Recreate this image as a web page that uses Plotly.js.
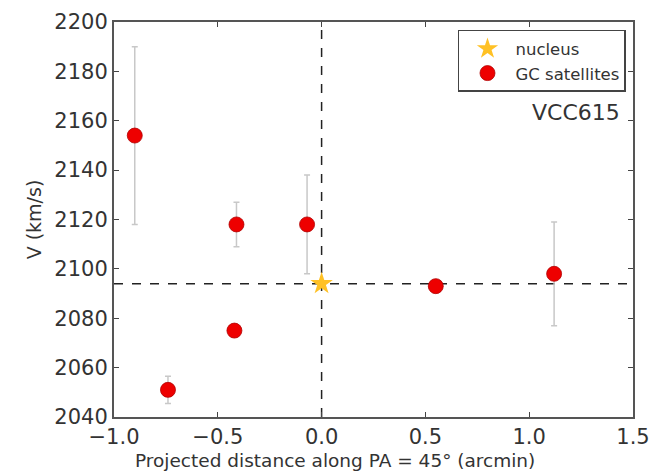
<!DOCTYPE html>
<html>
<head>
<meta charset="utf-8">
<script src="https://cdn.plot.ly/plotly-3.0.1.min.js"></script>
<style>html,body{margin:0;padding:0;background:#fff;}#chart{width:651px;height:474px;}</style>
</head>
<body>
<div id="chart"></div>
<script>
var gcX = [-0.90, -0.74, -0.42, -0.41, -0.07, 0.55, 1.12];
var gcV = [2154, 2051, 2075, 2118, 2118, 2093, 2098];
var gcErr = [36, 5.5, 0, 9, 20, 0, 21];
var nucX = [0.0];
var nucV = [2094];
var xTicks = [-1.0, -0.5, 0.0, 0.5, 1.0, 1.5];
var xTickText = ['\u22121.0', '\u22120.5', '0.0', '0.5', '1.0', '1.5'];
var yTicks = [2040, 2060, 2080, 2100, 2120, 2140, 2160, 2180, 2200];
var galaxyName = 'VCC615';
var xTitle = 'Projected distance along PA = 45\u00b0 (arcmin)';
var yTitle = 'V (km/s)';

var font = 'DejaVu Sans, sans-serif';
var traces = [
  {
    x: nucX, y: nucV, type: 'scatter', mode: 'markers', name: 'nucleus',
    marker: {symbol: 'star', size: 17, color: '#ffc125', line: {width: 0}}
  },
  {
    x: gcX, y: gcV, type: 'scatter', mode: 'markers', name: 'GC satellites',
    marker: {symbol: 'circle', size: 15, color: '#ee0000', line: {width: 0.8, color: '#b00000'}},
    error_y: {type: 'data', array: gcErr, visible: true, color: '#c8c8c8', thickness: 1.5, width: 3}
  }
];

var layout = {
  width: 651, height: 474,
  margin: {l: 114, r: 18, t: 22, b: 57},
  paper_bgcolor: '#fff', plot_bgcolor: '#fff',
  showlegend: true,
  font: {family: font, color: '#333'},
  xaxis: {
    range: [-1.0, 1.5], tickvals: xTicks, ticktext: xTickText,
    ticks: 'inside', ticklen: 5, tickwidth: 1, tickcolor: '#444',
    showline: true, linecolor: '#555', linewidth: 2, mirror: 'ticks',
    showgrid: false, zeroline: false,
    tickfont: {size: 21, color: '#333', family: font}
  },
  yaxis: {
    range: [2040, 2200], tickvals: yTicks,
    ticks: 'inside', ticklen: 5, tickwidth: 1, tickcolor: '#444',
    showline: true, linecolor: '#555', linewidth: 2, mirror: 'ticks',
    showgrid: false, zeroline: false,
    tickfont: {size: 21, color: '#333', family: font},
    title: {text: yTitle, font: {size: 19, color: '#333', family: font}, standoff: 8}
  },
  legend: {
    x: 0.9865, y: 0.98, xanchor: 'right', yanchor: 'top',
    bgcolor: '#fff', bordercolor: '#444', borderwidth: 1.5,
    font: {size: 16.5, color: '#333', family: font},
    itemsizing: 'trace', itemwidth: 46, tracegroupgap: 0
  },
  shapes: [
    {type: 'line', xref: 'x', yref: 'paper', x0: nucX[0], x1: nucX[0], y0: 0, y1: 1,
     line: {color: '#222', width: 1.5, dash: 'dash'}, layer: 'below'},
    {type: 'line', xref: 'paper', yref: 'y', x0: 0, x1: 1, y0: nucV[0], y1: nucV[0],
     line: {color: '#222', width: 1.5, dash: 'dash'}, layer: 'below'}
  ],
  annotations: [
    {text: galaxyName, xref: 'paper', yref: 'paper', x: 0.978, y: 0.77, xanchor: 'right', yanchor: 'middle',
     showarrow: false, font: {size: 22, color: '#333', family: font}},
    {text: xTitle, xref: 'paper', yref: 'paper', x: 0.0366, y: -0.109, xanchor: 'left', yanchor: 'middle',
     showarrow: false, font: {size: 18.5, color: '#333', family: font}}
  ]
};

Plotly.newPlot('chart', traces, layout, {displayModeBar: false, staticPlot: true});
</script>
</body>
</html>
